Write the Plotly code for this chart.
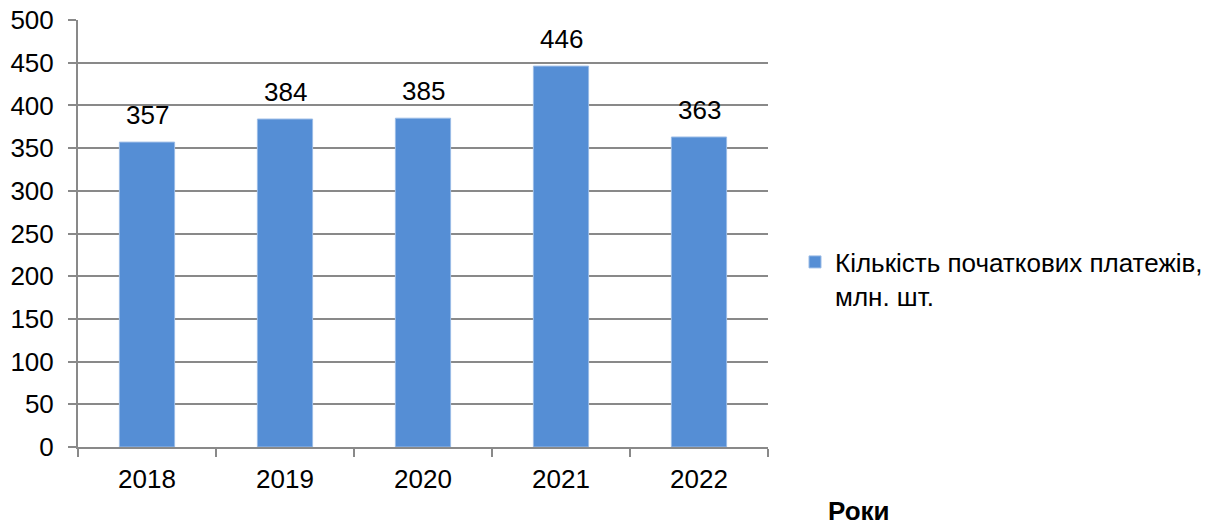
import plotly.graph_objects as go

years = ["2018", "2019", "2020", "2021", "2022"]
payments = [357, 384, 385, 446, 363]
series_name = "Кількість початкових платежів,<br>млн. шт."
x_title = "Роки"

FONT = "Liberation Sans, Arial, sans-serif"
FS = 26
GRAY = "#898989"
BLUE = "#558ED5"
BAR_EDGE = "#9ABBE6"

# the page body adds an 8 px offset around the figure
OFF = 8
W, H = 1217 - OFF, 522 - OFF
L, R, T, B = 78 - OFF, 768 - OFF, 20 - OFF, 447 - OFF

fig = go.Figure()
fig.add_trace(go.Bar(
    x=years, y=payments, name=series_name,
    marker=dict(color=BLUE, line=dict(width=1, color=BAR_EDGE)),
    showlegend=True,
))

for i, v in enumerate(payments):
    fig.add_annotation(x=i, y=v, text=str(v), showarrow=False,
                       xref="x", yref="y",
                       yanchor="bottom", yshift=10,
                       font=dict(family=FONT, size=FS, color="#000000"))

fig.add_annotation(xref="paper", yref="paper", x=(859 - OFF - L) / (R - L),
                   y=-(494 - OFF - B) / (B - T), text="<b>" + x_title + "</b>",
                   showarrow=False, xanchor="center", yanchor="top",
                   font=dict(family=FONT, size=FS, color="#000000"))

fig.update_layout(
    width=W, height=H,
    margin=dict(l=L, r=W - R, t=T, b=H - B, autoexpand=False),
    paper_bgcolor="white", plot_bgcolor="white",
    bargap=0.6,
    font=dict(family=FONT, size=FS, color="#000000"),
    legend=dict(x=1 + 27 / (R - L), xanchor="left", xref="paper",
                y=(447 - 279) / (447 - 20), yanchor="middle",
                valign="top", font=dict(family=FONT, size=FS, color="#000000"),
                bgcolor="rgba(0,0,0,0)", itemclick=False),
    xaxis=dict(type="category", range=[-0.5, 4.5], showgrid=False,
               automargin=False, ticklabeloverflow="allow",
               showline=True, linecolor=GRAY, linewidth=2,
               ticks="outside", tickson="boundaries", ticklen=8,
               tickcolor=GRAY, tickwidth=2, ticklabelstandoff=8,
               tickfont=dict(family=FONT, size=FS, color="#000000")),
    yaxis=dict(range=[0, 500], tickmode="linear", tick0=0, dtick=50,
               showgrid=True, gridcolor=GRAY,
               automargin=False, ticklabeloverflow="allow",
               gridwidth=2, showline=True, linecolor=GRAY, linewidth=2,
               ticks="outside", ticklen=8, tickcolor=GRAY, tickwidth=2,
               zeroline=False, ticklabelstandoff=9,
               tickfont=dict(family=FONT, size=FS, color="#000000")),
)

fig.write_html("out.html")
